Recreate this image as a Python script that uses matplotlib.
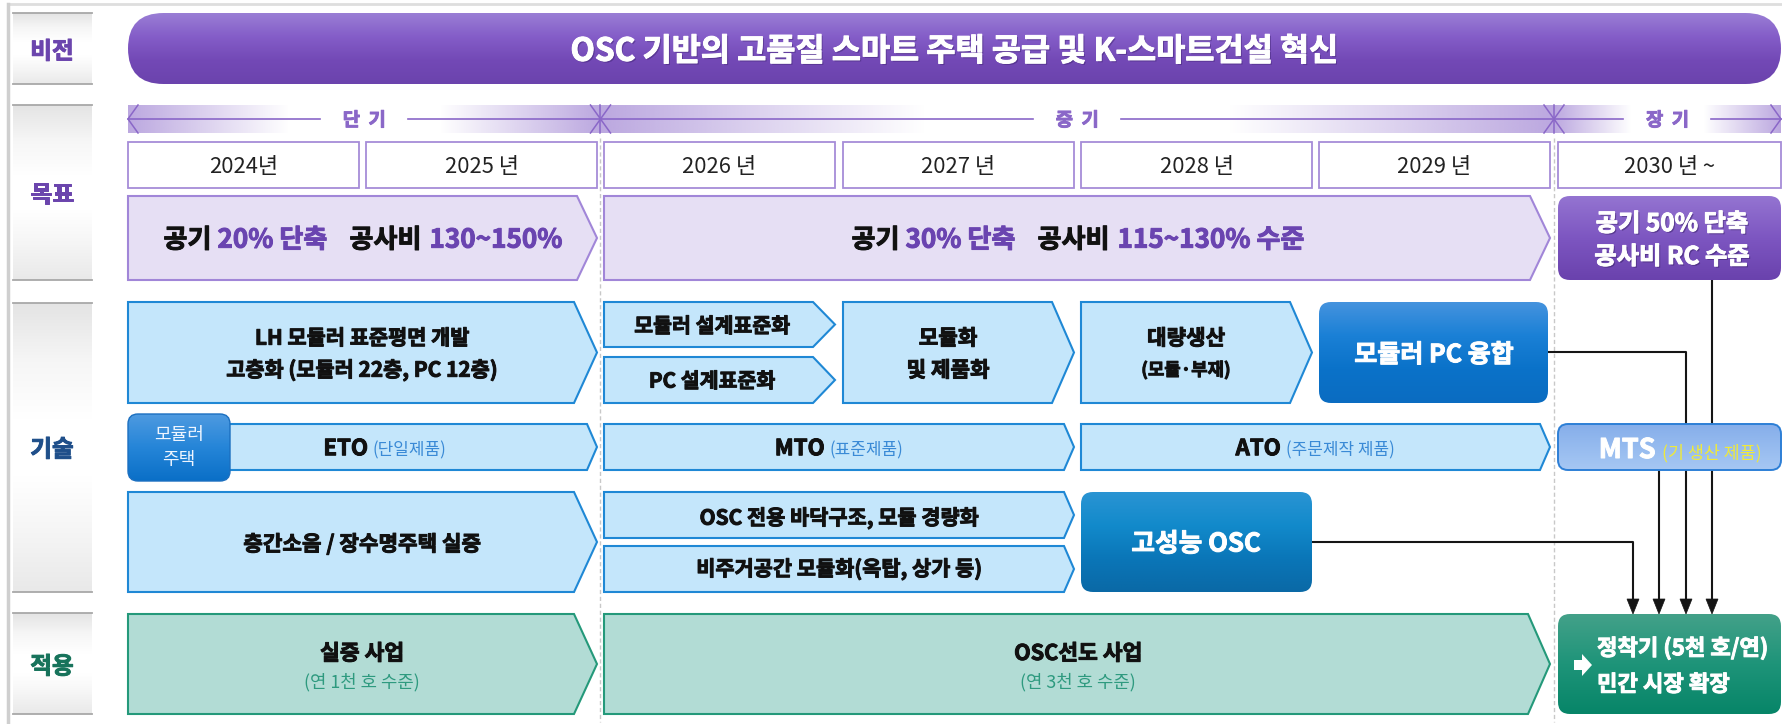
import numpy as np
import matplotlib
matplotlib.use('Agg')
import matplotlib.pyplot as plt
import matplotlib.patheffects as pe
from matplotlib.patches import Polygon, FancyBboxPatch, Rectangle
from matplotlib.colors import to_rgb

plt.rcParams['font.family'] = ['Noto Sans CJK KR', 'Noto Sans CJK JP', 'DejaVu Sans']

# ---- content ----
row_labels = ['비전', '목표', '기술', '적용']
vision_text = 'OSC 기반의 고품질 스마트 주택 공급 및 K-스마트건설 혁신'
period_labels = ['단  기', '중  기', '장  기']
year_labels = ['2024년', '2025 년', '2026 년', '2027 년', '2028 년', '2029 년', '2030 년 ~']

goal_short = [('공기', 'k'), ('20% 단축', 'p'), ('공사비', 'k'), ('130~150%', 'p')]
goal_mid = [('공기', 'k'), ('30% 단축', 'p'), ('공사비', 'k'), ('115~130% 수준', 'p')]
goal_long = ['공기 50% 단축', '공사비 RC 수준']

tech_lh = ['LH 모듈러 표준평면 개발', '고층화 (모듈러 22층, PC 12층)']
tech_std = ['모듈러 설계표준화', 'PC 설계표준화']
tech_mod = ['모듈화', '및 제품화']
tech_mass = ['대량생산', '(모듈·부재)']
tech_fusion = '모듈러 PC 융합'
modular_tag = ['모듈러', '주택']
make_types = ['ETO', 'MTO', 'ATO', 'MTS']
make_notes = ['(단일제품)', '(표준제품)', '(주문제작 제품)', '(기 생산 제품)']
tech_noise = '층간소음 / 장수명주택 실증'
tech_osc = ['OSC 전용 바닥구조, 모듈 경량화', '비주거공간 모듈화(옥탑, 상가 등)']
tech_hp = '고성능 OSC'
apply_titles = ['실증 사업', 'OSC선도 사업']
apply_scale = ['(연 1천 호 수준)', '(연 3천 호 수준)']
apply_long = ['정착기 (5천 호/연)', '민간 시장 확장']

# ---- colours ----
K = '#111111'
PURPLE_T = '#6a44b0'
BLUE_T = '#3a8ad6'
GREEN_T = '#2e9a7f'

W, H = 1783, 724
fig = plt.figure(figsize=(W / 100, H / 100), dpi=100, facecolor='white')
ax = fig.add_axes([0, 0, 1, 1])
ax.axis('off')
renderer = fig.canvas.get_renderer()

# column grid (pixels)
col_x = [128, 366, 604, 843, 1081, 1319, 1558]
col_w = 231
right_edge = 1781


def cx0(i):
    return col_x[i]


def cx1(i):
    return col_x[i] + col_w if i < 6 else right_edge


def gradient(x0, x1, y0, y1, stops, z, clip=None):
    n = 128
    cols = np.array([to_rgb(c) for c in stops])
    pos = np.linspace(0, 1, len(stops))
    t = np.linspace(0, 1, n)
    arr = np.stack([np.interp(t, pos, cols[:, k]) for k in range(3)], axis=-1)
    im = ax.imshow(arr[:, None, :], extent=(x0, x1, y1, y0), aspect='auto',
                   interpolation='bilinear', zorder=z)
    if clip is not None:
        im.set_clip_path(clip)
    return im


def put(x, cy, parts, gaps=None, ha='center', z=10, shadow=None):
    # parts: (text, colour, size, weight); baseline-aligned run of text
    gaps = gaps or [0] * (len(parts) - 1)
    maxsz = max(p[2] for p in parts)
    base = cy + 0.37 * maxsz * 100 / 72
    ts, ws = [], []
    for s, c, sz, wt in parts:
        t = ax.text(0, base, s, color=c, fontsize=sz, fontweight=wt,
                    ha='left', va='baseline', zorder=z)
        fx = []
        if shadow:
            fx.append(pe.withSimplePatchShadow(offset=(1.1, -1.1), shadow_rgbFace=shadow, alpha=0.45))
        if wt == 'bold':
            fx.append(pe.withStroke(linewidth=0.7, foreground=c))
        elif shadow:
            fx.append(pe.Normal())
        if fx:
            t.set_path_effects(fx)
        ws.append(t.get_window_extent(renderer).width)
        ts.append(t)
    total = sum(ws) + sum(gaps)
    cur = x - total / 2 if ha == 'center' else x
    for i, t in enumerate(ts):
        t.set_x(cur)
        cur += ws[i] + (gaps[i] if i < len(gaps) else 0)


def arrow(x0, x1, y0, y1, tip, fc, ec, lw=1.5, z=2):
    ym = (y0 + y1) / 2
    p = Polygon([(x0, y0), (x1 - tip, y0), (x1, ym), (x1 - tip, y1), (x0, y1)],
                closed=True, fc=fc, ec=ec, lw=lw, zorder=z, joinstyle='miter')
    ax.add_patch(p)


def rbox(x0, x1, y0, y1, r, stops, ec='none', lw=0, z=3):
    p = FancyBboxPatch((x0, y0), x1 - x0, y1 - y0,
                       boxstyle=f'round,pad=0,rounding_size={r}',
                       fc='none', ec=ec, lw=lw, zorder=z + 0.1)
    ax.add_patch(p)
    gradient(x0, x1, y0, y1, stops, z, clip=p)
    return p


# ---- page frame ----
ax.plot([8, W], [4, 4], color='#dedede', lw=2, zorder=0)
ax.plot([8, 8], [4, H], color='#cfcfcf', lw=2.5, zorder=0)

# ---- row labels ----
label_rows = [(13, 84), (105, 280), (303, 592), (613, 714)]
label_cy = [50, 193, 448, 665]
label_colors = ['#6b45ad', '#6b45ad', '#1f4f8a', '#17735b']
for lab, (y0, y1), cy, c in zip(row_labels, label_rows, label_cy, label_colors):
    gradient(13, 92, y0, y1, ['#e4e4e4', '#f6f6f6', '#ffffff', '#ffffff', '#f5f5f5', '#e9e9e9'], 1)
    ax.plot([13, 92], [y0, y0], color='#a8a8a8', lw=1.3, zorder=1.2)
    ax.plot([13, 92], [y1, y1], color='#a8a8a8', lw=1.3, zorder=1.2)
    put(52, cy, [(lab, c, 17, 'bold')])

# ---- vision bar ----
rbox(128, right_edge, 13, 84, 35.5, ['#9a7ed5', '#845dc8', '#7349b6', '#6b43ad'])
put((128 + right_edge) / 2, 49, [(vision_text, 'white', 22.8, 'bold')], shadow='#3a1f6b')

# ---- period band ----
band_c = to_rgb('#b8a3de')
line_c = '#8a67c8'
spans = [(128, 600.5), (600.5, 1554), (1554, right_edge)]
for lab, (xa, xb) in zip(period_labels, spans):
    L = xb - xa
    xs = np.linspace(xa, xb, 400)
    d = np.minimum(xs - xa, xb - xs)
    alpha = np.clip(1 - d / (0.34 * L), 0, 1) * 0.95
    img = np.zeros((1, 400, 4))
    img[..., :3] = band_c
    img[0, :, 3] = alpha
    ax.imshow(img, extent=(xa, xb, 133, 105), aspect='auto', interpolation='bilinear', zorder=1)
    mid = (xa + xb) / 2
    ax.plot([xa, mid - 44], [119, 119], color=line_c, lw=1.2, zorder=1.5)
    ax.plot([mid + 44, xb], [119, 119], color=line_c, lw=1.2, zorder=1.5)
    ax.plot([xa + 10, xa, xa + 10], [105, 119, 133], color=line_c, lw=1.1, zorder=1.5)
    ax.plot([xb - 10, xb, xb - 10], [105, 119, 133], color=line_c, lw=1.1, zorder=1.5)
    put(mid, 119, [(lab, line_c, 13.5, 'bold')])
for xj in (600.5, 1554):
    ax.plot([xj, xj], [105, 133], color=line_c, lw=1.1, zorder=1.5)

# dashed period separators
for xj in (600.5, 1554):
    ax.plot([xj, xj], [138, 722], color='#c8c8c8', lw=1, ls=(0, (3, 2)), zorder=0.5)

# ---- year boxes ----
for i, yl in enumerate(year_labels):
    ax.add_patch(Rectangle((cx0(i), 142), cx1(i) - cx0(i), 46, fc='white',
                           ec='#a68cd8', lw=1.3, zorder=2))
    put((cx0(i) + cx1(i)) / 2, 165, [(yl, '#222222', 15.8, 'normal')])

# ---- goals ----
gfc, gec = '#e6dff4', '#a186d8'
arrow(cx0(0), cx1(1), 196, 280, 20, gfc, gec)
arrow(cx0(2), cx1(5), 196, 280, 20, gfc, gec)
cmap = {'k': K, 'p': PURPLE_T}
for parts, cx in ((goal_short, 363), (goal_mid, 1078)):
    put(cx, 238, [(s, cmap[c], 18.8, 'bold') for s, c in parts], gaps=[6, 22, 8])
rbox(cx0(6), cx1(6), 196, 280, 12, ['#9474d1', '#7d56c1', '#6a42ad'])
for s, cy in zip(goal_long, (222, 255)):
    put(1672, cy, [(s, 'white', 17.5, 'bold')], shadow='#2e1858')

# ---- connectors (drawn under boxes) ----
lk = '#151515'
ax.plot([1712, 1712], [280, 600], color=lk, lw=1.5, zorder=1.6)
ax.plot([1548, 1686, 1686], [352, 352, 600], color=lk, lw=1.5, zorder=1.6)
ax.plot([1659, 1659], [470, 600], color=lk, lw=1.5, zorder=1.6)
ax.plot([1312, 1633, 1633], [542, 542, 600], color=lk, lw=1.5, zorder=1.6)
for xa in (1633, 1659, 1686, 1712):
    ax.add_patch(Polygon([(xa - 6, 599), (xa + 6, 599), (xa, 614)], closed=True,
                         fc=lk, ec=lk, lw=0.5, zorder=1.7))

# ---- technology ----
tfc, tec = '#c4e6fb', '#1f88d5'
arrow(cx0(0), cx1(1), 302, 403, 23, tfc, tec)
for s, cy in zip(tech_lh, (337, 369)):
    put(362, cy, [(s, K, 15, 'bold')])

arrow(cx0(2), cx1(2), 302, 347, 22, tfc, tec)
arrow(cx0(2), cx1(2), 357, 403, 22, tfc, tec)
for s, cy in zip(tech_std, (325, 380)):
    put(712, cy, [(s, K, 14.8, 'bold')])

arrow(cx0(3), cx1(3), 302, 403, 22, tfc, tec)
for s, cy in zip(tech_mod, (337, 369)):
    put(948, cy, [(s, K, 15.3, 'bold')])

arrow(cx0(4), cx1(4), 302, 403, 22, tfc, tec)
put(1186, 337, [(tech_mass[0], K, 15.3, 'bold')])
put(1186, 369, [(tech_mass[1], K, 12.8, 'bold')])

rbox(cx0(5), 1548, 302, 403, 12, ['#4593de', '#1a80d6', '#0a72c9', '#0b6cc1'])
put(1434, 353, [(tech_fusion, 'white', 18, 'bold')])

# make-to types
make_spans = [(200, cx1(1), 385), (cx0(2), cx1(3), 839), (cx0(4), cx1(5), 1315)]
for (x0, x1, cx), mt, note in zip(make_spans, make_types[:3], make_notes[:3]):
    arrow(x0, x1, 424, 470, 10, tfc, tec)
    put(cx, 447, [(mt, K, 16, 'bold'), (note, BLUE_T, 12.2, 'normal')], gaps=[5])
rbox(cx0(6), cx1(6), 424, 470, 10, ['#86aeea', '#96bbef', '#a6c7f3'], ec='#2d7fd6', lw=1.4, z=3)
put(1680, 448, [(make_types[3], 'white', 19.5, 'bold'), (make_notes[3], '#efe93a', 12.5, 'normal')],
    gaps=[6])

rbox(cx0(0), 230, 414, 481, 10, ['#4e9ae0', '#2585d8', '#0a6fc7'], ec='#1b6fc0', lw=1, z=3)
for s, cy in zip(modular_tag, (433, 458)):
    put(179, cy, [(s, '#eef5ff', 13, 'normal')])

arrow(cx0(0), cx1(1), 492, 592, 23, tfc, tec)
put(362, 543, [(tech_noise, K, 15.3, 'bold')])
arrow(cx0(2), cx1(3), 492, 538, 10, tfc, tec)
arrow(cx0(2), cx1(3), 546, 592, 10, tfc, tec)
for s, cy in zip(tech_osc, (517, 568)):
    put(839, cy, [(s, K, 15, 'bold')])
rbox(cx0(4), cx1(4), 492, 592, 12, ['#2a94d3', '#128acb', '#0a76b8', '#0a69a6'])
put(1196, 542, [(tech_hp, 'white', 18.5, 'bold')])

# ---- application ----
afc, aec = '#b2dcd5', '#24997a'
arrow(cx0(0), cx1(1), 614, 714, 23, afc, aec)
arrow(cx0(2), cx1(5), 614, 714, 22, afc, aec)
for cx, t, sc in zip((362, 1078), apply_titles, apply_scale):
    put(cx, 652, [(t, K, 15.5, 'bold')])
    put(cx, 681, [(sc, GREEN_T, 12.8, 'normal')])
rbox(cx0(6), cx1(6), 614, 714, 12, ['#43a189', '#1e9479', '#078568'])
ax.add_patch(Polygon([(1574, 660), (1582, 660), (1582, 654), (1592, 665), (1582, 676),
                      (1582, 670), (1574, 670)], closed=True, fc='white', ec='none', zorder=4))
for s, cy in zip(apply_long, (647, 683)):
    put(1597, cy, [(s, 'white', 16, 'bold')], ha='left')

ax.set_xlim(0, W)
ax.set_ylim(H, 0)
fig.savefig('out.png', dpi=100, facecolor='white')
